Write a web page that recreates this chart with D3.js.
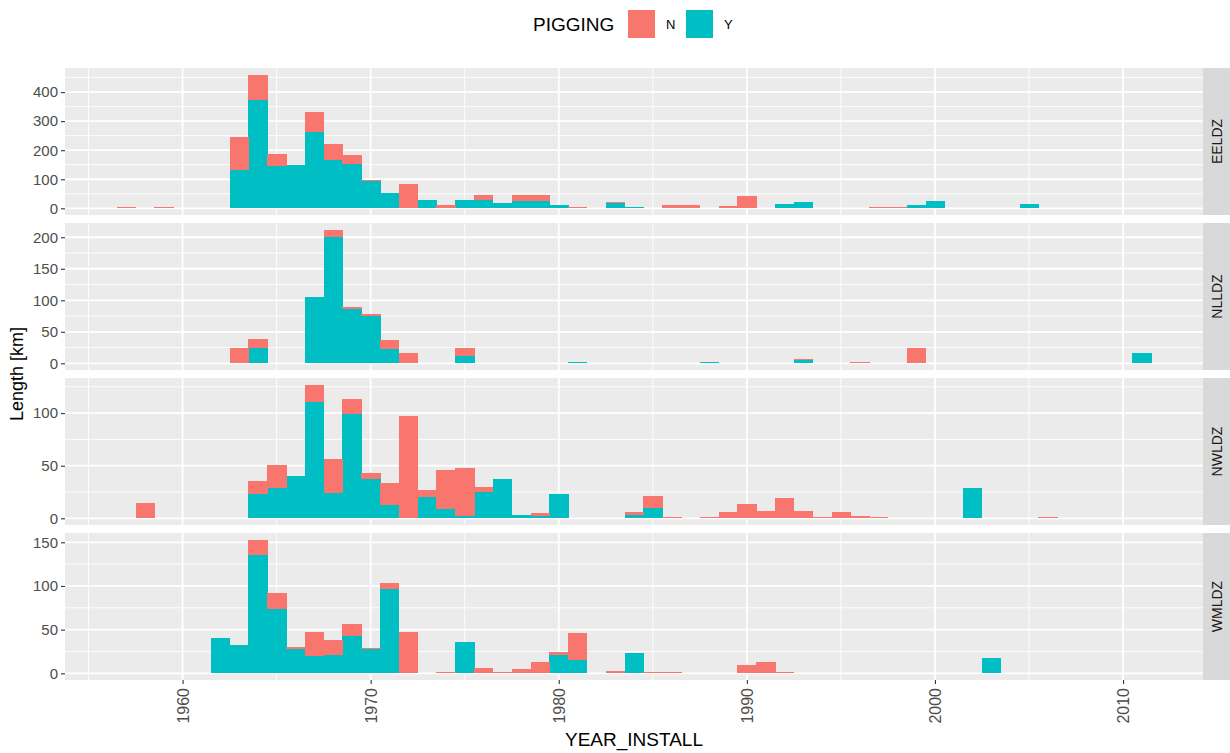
<!DOCTYPE html>
<html>
<head>
<meta charset="utf-8">
<script src="https://cdn.jsdelivr.net/npm/d3@7"></script>
<style>
  body { margin: 0; background: #fff; }
  text { font-family: "Liberation Sans", Arial, sans-serif; }
</style>
</head>
<body>
<div id="chart"></div>
<script>
// facets
var regions = ["EELDZ", "NLLDZ", "NWLDZ", "WMLDZ"];

// EELDZ
var eeldzYear = [1957, 1959, 1962, 1963, 1964, 1965, 1966, 1967, 1968, 1969, 1970, 1971, 1972, 1973, 1974, 1975, 1976, 1977, 1978, 1979, 1980, 1981, 1982, 1983, 1984, 1986, 1987, 1989, 1990, 1992, 1993, 1994, 1997, 1998, 1999, 2000, 2005];
var eeldzN    = [3, 3, 1, 114, 87, 41, 1, 68, 53, 31, 2, 0, 83, 0, 13, 0, 17, 0, 22, 20, 1, 6, 2, 6, 0, 13, 11, 8, 41, 0, 0, 1, 4, 4, 0, 0, 0];
var eeldzY    = [0, 0, 0, 133, 373, 147, 148, 264, 167, 154, 94, 54, 0, 30, 0, 29, 29, 19, 24, 26, 10, 0, 0, 17, 4, 0, 0, 0, 0, 14, 23, 0, 0, 0, 10, 25, 15];

// NLLDZ
var nlldzYear = [1963, 1964, 1967, 1968, 1969, 1970, 1971, 1972, 1975, 1981, 1988, 1993, 1996, 1999, 2011];
var nlldzN    = [25, 14, 0, 11, 4, 3, 15, 16, 13, 0, 0, 1, 2, 24, 0];
var nlldzY    = [0, 25, 105, 201, 86, 75, 22, 0, 11, 2, 2, 6, 0, 0, 17];

// NWLDZ
var nwldzYear = [1958, 1964, 1965, 1966, 1967, 1968, 1969, 1970, 1971, 1972, 1973, 1974, 1975, 1976, 1977, 1978, 1979, 1980, 1984, 1985, 1986, 1988, 1989, 1990, 1991, 1992, 1993, 1994, 1995, 1996, 1997, 2002, 2006];
var nwldzN    = [15, 12, 22, 0, 16, 32, 14, 6, 21, 97, 7, 37, 46, 5, 0, 0, 3, 0, 3, 11, 1, 1, 6, 14, 7, 19, 7, 1, 6, 2, 1, 0, 1];
var nwldzY    = [0, 23, 29, 40, 111, 24, 99, 37, 13, 0, 20, 9, 2, 25, 37, 3, 2, 23, 3, 10, 0, 0, 0, 0, 0, 0, 0, 0, 0, 0, 0, 29, 0];

// WMLDZ
var wmldzYear = [1962, 1963, 1964, 1965, 1966, 1967, 1968, 1969, 1970, 1971, 1972, 1974, 1975, 1976, 1977, 1978, 1979, 1980, 1981, 1983, 1984, 1985, 1986, 1988, 1990, 1991, 1992, 1999, 2003];
var wmldzN    = [0, 0, 18, 18, 2, 27, 17, 13, 1, 6, 47, 1, 0, 6, 2, 5, 13, 3, 31, 3, 0, 1.5, 1, 0.6, 10, 13, 2, 0.6, 0];
var wmldzY    = [40, 32, 135, 74, 28, 20, 21, 43, 28, 97, 0, 0, 36, 0, 0, 0, 0, 21, 15, 0, 23, 0, 0, 0, 0, 0, 0, 0, 18];

// tick labels
var xTicks = [1960, 1970, 1980, 1990, 2000, 2010];
var yTicks = [[0, 100, 200, 300, 400], [0, 50, 100, 150, 200], [0, 50, 100], [0, 50, 100, 150]];

var keys = ["N", "Y"];
var colors = { N: "#F8766D", Y: "#00BFC4" };

var W = 1230, H = 753;
var left = 65, right = 1203, stripW = 27;
var panelTop = 68, panelH = 147, panelGap = 8;

var svg = d3.select("#chart").append("svg")
  .attr("width", W).attr("height", H);

function rows(years, n, y) {
  return years.map(function(d, i) { return { year: d, N: n[i], Y: y[i] }; });
}
var panels = [
  rows(eeldzYear, eeldzN, eeldzY),
  rows(nlldzYear, nlldzN, nlldzY),
  rows(nwldzYear, nwldzN, nwldzY),
  rows(wmldzYear, wmldzN, wmldzY)
];

// shared x scale, bins are one year wide, ggplot-like 5% expansion
var allYears = [].concat(eeldzYear, nlldzYear, nwldzYear, wmldzYear);
var xMin = d3.min(allYears) - 0.5, xMax = d3.max(allYears) + 0.5;
var xPad = (xMax - xMin) * 0.05;
var x = d3.scaleLinear().domain([xMin - xPad, xMax + xPad]).range([left, right]);

var stack = d3.stack().keys(keys.slice().reverse()); // Y at bottom, N on top

panels.forEach(function(data, i) {
  var top = panelTop + i * (panelH + panelGap);
  var bottom = top + panelH;
  var maxV = d3.max(data, function(d) { return d.N + d.Y; });
  var yPad = maxV * 0.05;
  var y = d3.scaleLinear().domain([-yPad, maxV + yPad]).range([bottom, top]);

  var g = svg.append("g");

  g.append("rect")
    .attr("x", left).attr("y", top)
    .attr("width", right - left).attr("height", panelH)
    .attr("fill", "#EBEBEB");

  // minor grid
  var yt = yTicks[i];
  var step = yt[1] - yt[0];
  var yMinor = yt.map(function(t) { return t + step / 2; })
    .filter(function(t) { return t < maxV + yPad; });
  var xMinor = xTicks.map(function(t) { return t - 5; }).concat([xTicks[xTicks.length - 1] + 5])
    .filter(function(t) { return x(t) > left && x(t) < right; });

  g.selectAll(".yminor").data(yMinor).enter().append("line")
    .attr("x1", left).attr("x2", right)
    .attr("y1", function(d) { return y(d); }).attr("y2", function(d) { return y(d); })
    .attr("stroke", "#fff").attr("stroke-width", 0.9);
  g.selectAll(".xminor").data(xMinor).enter().append("line")
    .attr("x1", function(d) { return x(d); }).attr("x2", function(d) { return x(d); })
    .attr("y1", top).attr("y2", bottom)
    .attr("stroke", "#fff").attr("stroke-width", 0.9);

  // major grid
  g.selectAll(".ymajor").data(yt).enter().append("line")
    .attr("x1", left).attr("x2", right)
    .attr("y1", function(d) { return y(d); }).attr("y2", function(d) { return y(d); })
    .attr("stroke", "#fff").attr("stroke-width", 1.8);
  g.selectAll(".xmajor").data(xTicks).enter().append("line")
    .attr("x1", function(d) { return x(d); }).attr("x2", function(d) { return x(d); })
    .attr("y1", top).attr("y2", bottom)
    .attr("stroke", "#fff").attr("stroke-width", 1.8);

  // stacked bars
  var series = stack(data);
  g.selectAll(".series").data(series).enter().append("g")
    .attr("fill", function(s) { return colors[s.key]; })
    .attr("shape-rendering", "crispEdges")
    .selectAll("rect").data(function(s) { return s; }).enter().append("rect")
    .attr("x", function(d) { return x(d.data.year - 0.5); })
    .attr("width", function(d) { return x(d.data.year + 0.5) - x(d.data.year - 0.5) + 0.5; })
    .attr("y", function(d) { return y(d[1]); })
    .attr("height", function(d) { return Math.max(0, y(d[0]) - y(d[1])); });

  // y axis
  var yAxis = g.append("g")
    .attr("transform", "translate(" + left + ",0)")
    .call(d3.axisLeft(y).tickValues(yt).tickSize(4).tickPadding(3));
  yAxis.select(".domain").remove();
  yAxis.selectAll("line").attr("stroke", "#333").attr("stroke-width", 1.1);
  yAxis.selectAll("text").attr("fill", "#4D4D4D").style("font-size", "15px");

  // strip
  g.append("rect")
    .attr("x", right).attr("y", top)
    .attr("width", stripW).attr("height", panelH)
    .attr("fill", "#D9D9D9");
  g.append("text")
    .attr("transform", "translate(" + (right + stripW / 2 + 5) + "," + (top + panelH / 2) + ") rotate(-90)")
    .attr("text-anchor", "middle")
    .attr("fill", "#1A1A1A")
    .style("font-size", "14px")
    .text(regions[i]);

  // x axis on bottom panel
  if (i === panels.length - 1) {
    var xAxis = g.append("g")
      .attr("transform", "translate(0," + bottom + ")")
      .call(d3.axisBottom(x).tickValues(xTicks).tickFormat(d3.format("d")).tickSize(4));
    xAxis.select(".domain").remove();
    xAxis.selectAll("line").attr("stroke", "#333").attr("stroke-width", 1.1);
    xAxis.selectAll("text")
      .attr("fill", "#4D4D4D")
      .style("font-size", "16px")
      .attr("transform", "rotate(-90)")
      .attr("text-anchor", "end")
      .attr("x", -8).attr("y", 0).attr("dy", "0.35em");
  }
});

// axis titles
svg.append("text")
  .attr("x", 634).attr("y", 746)
  .attr("text-anchor", "middle")
  .attr("fill", "#000")
  .style("font-size", "19px")
  .text("YEAR_INSTALL");

svg.append("text")
  .attr("transform", "translate(23," + (panelTop + (4 * panelH + 3 * panelGap) / 2) + ") rotate(-90)")
  .attr("text-anchor", "middle")
  .attr("fill", "#000")
  .style("font-size", "18px")
  .text("Length [km]");

// legend
var legend = svg.append("g");
legend.append("text")
  .attr("x", 533).attr("y", 31)
  .attr("fill", "#000")
  .style("font-size", "19px")
  .text("PIGGING");
var lx = [628, 686];
keys.forEach(function(k, i) {
  legend.append("rect")
    .attr("x", lx[i]).attr("y", 10)
    .attr("width", 27).attr("height", 28)
    .attr("fill", colors[k]);
  legend.append("text")
    .attr("x", lx[i] + 38).attr("y", 29)
    .attr("fill", "#000")
    .style("font-size", "13px")
    .text(k);
});
</script>
</body>
</html>
